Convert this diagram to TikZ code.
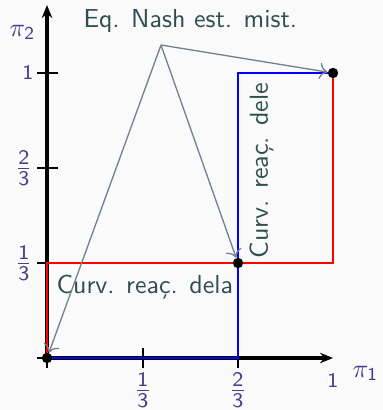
\documentclass[tikz,border=0pt]{standalone}
\usepackage{amsmath}
\usetikzlibrary{arrows.meta}
\definecolor{bgc}{RGB}{250,250,250}
\definecolor{txt}{RGB}{47,79,79}
\definecolor{mth}{RGB}{72,61,139}
\definecolor{arr}{RGB}{112,128,144}
\begin{document}
\begin{tikzpicture}[x=0.385pt,y=-0.385pt,font=\sffamily,
  axisline/.style={line width=1.2pt,-{Stealth[length=5pt,width=4pt]}},
  tickline/.style={line width=0.4pt},
  redc/.style={red,line width=0.9pt},
  bluec/.style={blue,line width=0.9pt},
  dot/.style={circle,fill=black,inner sep=0pt,minimum size=4pt},
  lbl/.style={text=txt,inner sep=0pt},
  ticklbl/.style={text=mth,inner sep=0pt,font=\footnotesize},
  fraclbl/.style={text=mth,inner sep=0pt,font=\fontsize{11}{13}\selectfont},
  axlbl/.style={text=mth,inner sep=0pt,font=\normalsize},
  ptr/.style={arr,line width=0.5pt,-{To[length=3pt]}}]
\fill[bgc] (0,0) rectangle (383,410);
\useasboundingbox (0,0) rectangle (383,410);
% coordinates
\coordinate (O) at (47,358);
\coordinate (Xend) at (333,358);
\coordinate (Yend) at (47,5);
% axes
\draw[axisline] (O) -- (Xend);
\draw[axisline] (O) -- (Yend);
% ticks
\foreach \yy/\nm in {73/ya,168/yb,263/yc,358/yd}{
  \coordinate (\nm l) at (37,\yy); \coordinate (\nm r) at (58,\yy);
  \draw[tickline] (\nm l) -- (\nm r);}
\foreach \xx/\nm in {47/xa,143/xb,238/xc}{
  \coordinate (\nm t) at (\xx,348); \coordinate (\nm b) at (\xx,368);
  \draw[tickline] (\nm t) -- (\nm b);}
% tick labels
\node[ticklbl,anchor=east] (ly1) at (34,73) {$\mathsf{1}$};
\node[fraclbl,anchor=east] (ly2) at (33,168) {$\frac{\mathsf{2}}{\mathsf{3}}$};
\node[fraclbl,anchor=east] (ly3) at (33,263) {$\frac{\mathsf{1}}{\mathsf{3}}$};
\node[fraclbl,anchor=north] (lx1) at (143,372) {$\frac{\mathsf{1}}{\mathsf{3}}$};
\node[fraclbl,anchor=north] (lx2) at (238,372) {$\frac{\mathsf{2}}{\mathsf{3}}$};
\node[ticklbl,anchor=north] (lx3) at (333,373) {$\mathsf{1}$};
\node[axlbl,anchor=base west] (p1) at (352,377) {$\pi_{\mathsf{1}}$};
\node[axlbl,anchor=base west] (p2) at (9,36) {$\pi_{\mathsf{2}}$};
% reaction curves
\coordinate (R1) at (47,263);
\coordinate (R2) at (333,263);
\coordinate (B1) at (238,358);
\coordinate (B2) at (238,73);
\draw[redc] (O) -- (R1) -- (R2) -- (333,73);
\draw[bluec] (O) -- (B1) -- (B2) -- (333,73);
% labels
\node[lbl,anchor=base west] (nash) at (83,27) {Eq. Nash est. mist.};
\node[lbl,anchor=base west] (dela) at (56,293) {Curv. reaç. dela};
\node[lbl,anchor=base west,rotate=90] (dele) at (268,259) {Curv. reaç. dele};
% equilibria
\node[dot] (e1) at (333,73) {};
\node[dot] (e2) at (238,263) {};
\node[dot] (e3) at (47,358) {};
\coordinate (src) at (161,45);
\draw[ptr] (src) -- (e1);
\draw[ptr] (src) -- (e2);
\draw[ptr] (src) -- (e3);
\end{tikzpicture}
\end{document}
